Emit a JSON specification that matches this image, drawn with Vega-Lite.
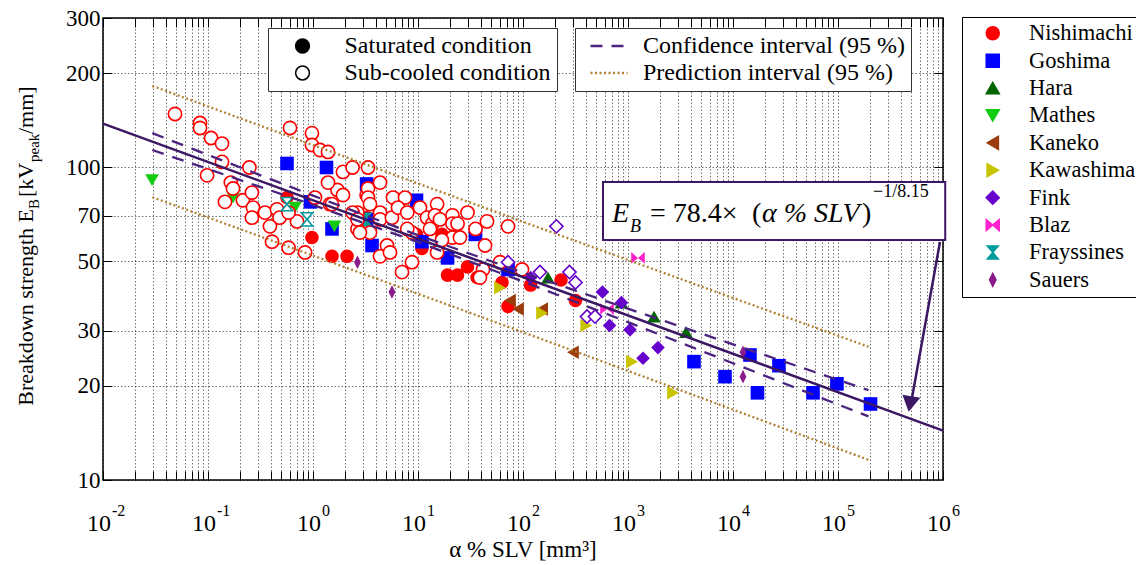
{
"$schema":"https://vega.github.io/schema/vega-lite/v6.json",
"width":840,"height":462,
"autosize":{"type":"none"},
"padding":{"left":103,"top":18,"right":193,"bottom":85},
"background":"white",
"resolve":{"axis":{"x":"independent","y":"independent"}},
"config":{
 "view":{"stroke":"#000","strokeWidth":1.5},
 "font":"Liberation Serif, Times New Roman, DejaVu Serif, serif",
 "text":{"font":"Liberation Serif, Times New Roman, DejaVu Serif, serif"},
 "axis":{"domain":false,"grid":true,"gridColor":"#000","gridDash":[1.5,2],"gridOpacity":0.55,"gridWidth":1,"tickColor":"#000","tickWidth":1,"labelFont":"Liberation Serif, Times New Roman, DejaVu Serif, serif","labelColor":"#000","labelFontSize":23},
 "legend":{"labelFont":"Liberation Serif, Times New Roman, DejaVu Serif, serif","labelColor":"#000"}
},
"datasets":{
"pts":[
{"s":"Nishimachi","c":"sub","x":0.0485,"y":148},{"s":"Nishimachi","c":"sub","x":0.0839,"y":138.5},{"s":"Nishimachi","c":"sub","x":0.0839,"y":133.5},{"s":"Nishimachi","c":"sub","x":0.107,"y":124},{"s":"Nishimachi","c":"sub","x":0.136,"y":119},{"s":"Nishimachi","c":"sub","x":0.136,"y":104},{"s":"Nishimachi","c":"sub","x":0.098,"y":94.2},{"s":"Nishimachi","c":"sub","x":0.248,"y":99.8},{"s":"Nishimachi","c":"sub","x":0.165,"y":89.3},{"s":"Nishimachi","c":"sub","x":0.173,"y":85.5},
{"s":"Nishimachi","c":"sub","x":0.145,"y":77.5},{"s":"Nishimachi","c":"sub","x":0.215,"y":78.4},{"s":"Nishimachi","c":"sub","x":0.262,"y":83},{"s":"Nishimachi","c":"sub","x":0.268,"y":74.3},{"s":"Nishimachi","c":"sub","x":0.262,"y":69},{"s":"Nishimachi","c":"sub","x":0.349,"y":71.6},{"s":"Nishimachi","c":"sub","x":0.454,"y":73.3},{"s":"Nishimachi","c":"sub","x":0.48,"y":69},{"s":"Nishimachi","c":"sub","x":0.389,"y":64.7},{"s":"Nishimachi","c":"sub","x":0.407,"y":57.8},
{"s":"Nishimachi","c":"sub","x":0.585,"y":55.3},{"s":"Nishimachi","c":"sub","x":0.84,"y":53.4},{"s":"Nishimachi","c":"sub","x":0.604,"y":133.5},{"s":"Nishimachi","c":"sub","x":0.977,"y":128.5},{"s":"Nishimachi","c":"sub","x":0.977,"y":117.8},{"s":"Nishimachi","c":"sub","x":1.166,"y":113.5},{"s":"Nishimachi","c":"sub","x":1.39,"y":111.9},{"s":"Nishimachi","c":"sub","x":0.704,"y":67.1},{"s":"Nishimachi","c":"sub","x":1.045,"y":80},{"s":"Nishimachi","c":"sub","x":1.45,"y":76.2},
{"s":"Nishimachi","c":"sub","x":1.71,"y":84.6},{"s":"Nishimachi","c":"sub","x":1.93,"y":81.5},{"s":"Nishimachi","c":"sub","x":1.93,"y":96.6},{"s":"Nishimachi","c":"sub","x":2.38,"y":99.8},{"s":"Nishimachi","c":"sub","x":3.34,"y":99.8},{"s":"Nishimachi","c":"sub","x":4.35,"y":89.3},{"s":"Nishimachi","c":"sub","x":3.24,"y":81.5},{"s":"Nishimachi","c":"sub","x":2.65,"y":71.6},{"s":"Nishimachi","c":"sub","x":2.65,"y":63.5},{"s":"Nishimachi","c":"sub","x":3.49,"y":61.8},
{"s":"Nishimachi","c":"sub","x":4.35,"y":71.6},{"s":"Nishimachi","c":"sub","x":5.07,"y":56.2},{"s":"Nishimachi","c":"sub","x":4.35,"y":51.9},{"s":"Nishimachi","c":"sub","x":1.39,"y":89.3},{"s":"Nishimachi","c":"sub","x":1.517,"y":76.2},{"s":"Nishimachi","c":"sub","x":2.38,"y":71.6},{"s":"Nishimachi","c":"sub","x":2.65,"y":68.1},{"s":"Nishimachi","c":"sub","x":3.34,"y":85.5},{"s":"Nishimachi","c":"sub","x":3.34,"y":80},{"s":"Nishimachi","c":"sub","x":3.49,"y":76.2},
{"s":"Nishimachi","c":"sub","x":4.35,"y":68.1},{"s":"Nishimachi","c":"sub","x":5.65,"y":69},{"s":"Nishimachi","c":"sub","x":5.41,"y":53.4},{"s":"Nishimachi","c":"sub","x":8.77,"y":49.7},{"s":"Nishimachi","c":"sub","x":7.04,"y":46.2},{"s":"Nishimachi","c":"sub","x":5.78,"y":80},{"s":"Nishimachi","c":"sub","x":7.52,"y":80},{"s":"Nishimachi","c":"sub","x":6.45,"y":74.3},{"s":"Nishimachi","c":"sub","x":7.9,"y":71.6},{"s":"Nishimachi","c":"sub","x":8.77,"y":61.8},
{"s":"Nishimachi","c":"sub","x":10.45,"y":74.3},{"s":"Nishimachi","c":"sub","x":12.2,"y":69},{"s":"Nishimachi","c":"sub","x":13.7,"y":66},{"s":"Nishimachi","c":"sub","x":15.2,"y":76.2},{"s":"Nishimachi","c":"sub","x":14.5,"y":70.2},{"s":"Nishimachi","c":"sub","x":16.2,"y":68.1},{"s":"Nishimachi","c":"sub","x":21.3,"y":70.2},{"s":"Nishimachi","c":"sub","x":21.3,"y":66},{"s":"Nishimachi","c":"sub","x":21.3,"y":59.6},{"s":"Nishimachi","c":"sub","x":15.2,"y":53.4},
{"s":"Nishimachi","c":"sub","x":7.9,"y":63.5},{"s":"Nishimachi","c":"sub","x":16.9,"y":58.5},{"s":"Nishimachi","c":"sub","x":29.6,"y":71.6},{"s":"Nishimachi","c":"sub","x":23.8,"y":66},{"s":"Nishimachi","c":"sub","x":35.3,"y":63.5},{"s":"Nishimachi","c":"sub","x":45.4,"y":67.1},{"s":"Nishimachi","c":"sub","x":72,"y":64.7},{"s":"Nishimachi","c":"sub","x":13,"y":63.5},{"s":"Nishimachi","c":"sub","x":25.1,"y":59.6},{"s":"Nishimachi","c":"sub","x":43.5,"y":56.2},
{"s":"Nishimachi","c":"sub","x":41.6,"y":47.1},{"s":"Nishimachi","c":"sub","x":38.9,"y":44.4},{"s":"Nishimachi","c":"sub","x":60.4,"y":49.7},{"s":"Nishimachi","c":"sub","x":97.8,"y":47.1},{"s":"Nishimachi","c":"sub","x":2.8,"y":61.8},{"s":"Nishimachi","c":"sub","x":0.585,"y":71.6},
{"s":"Nishimachi","c":"sat","x":0.977,"y":59.6},{"s":"Nishimachi","c":"sat","x":1.517,"y":51.9},{"s":"Nishimachi","c":"sat","x":2.11,"y":51.9},{"s":"Nishimachi","c":"sat","x":3.24,"y":69},{"s":"Nishimachi","c":"sat","x":9.68,"y":61},{"s":"Nishimachi","c":"sat","x":10.9,"y":55},{"s":"Nishimachi","c":"sat","x":16.9,"y":61},{"s":"Nishimachi","c":"sat","x":19.1,"y":45.2},{"s":"Nishimachi","c":"sat","x":23.8,"y":45.2},{"s":"Nishimachi","c":"sat","x":29.6,"y":48},
{"s":"Nishimachi","c":"sat","x":36.5,"y":44.4},{"s":"Nishimachi","c":"sat","x":63.1,"y":42.8},{"s":"Nishimachi","c":"sat","x":72,"y":35.9},{"s":"Nishimachi","c":"sat","x":118,"y":42},{"s":"Nishimachi","c":"sat","x":230,"y":43.6},{"s":"Nishimachi","c":"sat","x":316,"y":37.5},{"s":"Nishimachi","c":"sat","x":0.565,"y":80},
{"s":"Goshima","c":"sat","x":0.565,"y":102.8},{"s":"Goshima","c":"sat","x":1.345,"y":99.8},{"s":"Goshima","c":"sat","x":3.24,"y":88.4},{"s":"Goshima","c":"sat","x":0.946,"y":77.5},{"s":"Goshima","c":"sat","x":1.517,"y":63.5},{"s":"Goshima","c":"sat","x":3.24,"y":68.1},{"s":"Goshima","c":"sat","x":3.65,"y":56.2},{"s":"Goshima","c":"sat","x":9.68,"y":78.4},{"s":"Goshima","c":"sat","x":10.9,"y":57.8},{"s":"Goshima","c":"sat","x":19.1,"y":51.3},
{"s":"Goshima","c":"sat","x":35.3,"y":61},{"s":"Goshima","c":"sat","x":72,"y":47.1},{"s":"Goshima","c":"sat","x":4250,"y":23.9},{"s":"Goshima","c":"sat","x":8390,"y":21.4},{"s":"Goshima","c":"sat","x":14500,"y":25.1},{"s":"Goshima","c":"sat","x":17100,"y":19},{"s":"Goshima","c":"sat","x":27400,"y":23.2},{"s":"Goshima","c":"sat","x":57800,"y":19},{"s":"Goshima","c":"sat","x":97700,"y":20.3},{"s":"Goshima","c":"sat","x":204000,"y":17.5},
{"s":"Hara","c":"sat","x":173,"y":44.4},{"s":"Hara","c":"sat","x":867,"y":36.9},{"s":"Hara","c":"sat","x":1770,"y":33.3},{"s":"Hara","c":"sat","x":3570,"y":29.7},
{"s":"Mathes","c":"sat","x":0.0293,"y":91},{"s":"Mathes","c":"sat","x":0.173,"y":80},{"s":"Mathes","c":"sat","x":0.674,"y":74.3},{"s":"Mathes","c":"sat","x":1.6,"y":64.7},
{"s":"Kaneko","c":"sat","x":75.2,"y":37.5},{"s":"Kaneko","c":"sat","x":89.6,"y":35.2},{"s":"Kaneko","c":"sat","x":152,"y":35.2},{"s":"Kaneko","c":"sat","x":299,"y":25.6},
{"s":"Kawashima","c":"sat","x":60.4,"y":41.2},{"s":"Kawashima","c":"sat","x":152,"y":34.2},{"s":"Kawashima","c":"sat","x":400,"y":31.2},{"s":"Kawashima","c":"sat","x":1091,"y":23.9},{"s":"Kawashima","c":"sat","x":2685,"y":19},
{"s":"Fink","c":"sat","x":118,"y":44.4},{"s":"Fink","c":"sat","x":571,"y":39.9},{"s":"Fink","c":"sat","x":867,"y":36.9},{"s":"Fink","c":"sat","x":667,"y":31.2},{"s":"Fink","c":"sat","x":1045,"y":30.2},{"s":"Fink","c":"sat","x":1930,"y":26.5},{"s":"Fink","c":"sat","x":1390,"y":24.5},
{"s":"Fink","c":"sub","x":208,"y":64.7},{"s":"Fink","c":"sub","x":72,"y":49.7},{"s":"Fink","c":"sub","x":145,"y":46.2},{"s":"Fink","c":"sub","x":277,"y":46.2},{"s":"Fink","c":"sub","x":316,"y":42.8},{"s":"Fink","c":"sub","x":407,"y":33.3},{"s":"Fink","c":"sub","x":485,"y":33.3},
{"s":"Blaz","c":"sat","x":1245,"y":51.3},{"s":"Blaz","c":"sat","x":631,"y":35.2},
{"s":"Frayssines","c":"sub","x":0.877,"y":68.1},{"s":"Frayssines","c":"sat","x":3.24,"y":68.1},{"s":"Frayssines","c":"sub","x":0.565,"y":76.2},
{"s":"Sauers","c":"sat","x":2.65,"y":49.7},{"s":"Sauers","c":"sat","x":5.65,"y":39.9},{"s":"Sauers","c":"sat","x":12450,"y":25.6},{"s":"Sauers","c":"sat","x":12450,"y":21.4}
],
"fit":[{"x":0.01,"y":137.9},{"x":1000000,"y":14.39}],
"bands":[
{"b":"Confidence interval (95 %)","k":"cu","x":0.0295,"y":128.5},{"b":"Confidence interval (95 %)","k":"cu","x":0.1,"y":109.5},{"b":"Confidence interval (95 %)","k":"cu","x":1,"y":81.15},{"b":"Confidence interval (95 %)","k":"cu","x":11.2,"y":59.77},{"b":"Confidence interval (95 %)","k":"cu","x":100,"y":46.05},{"b":"Confidence interval (95 %)","k":"cu","x":1000,"y":35.3},{"b":"Confidence interval (95 %)","k":"cu","x":10000,"y":27.15},{"b":"Confidence interval (95 %)","k":"cu","x":195000,"y":19.37},
{"b":"Confidence interval (95 %)","k":"cl","x":0.0295,"y":113.5},{"b":"Confidence interval (95 %)","k":"cl","x":0.1,"y":98.7},{"b":"Confidence interval (95 %)","k":"cl","x":1,"y":75.75},{"b":"Confidence interval (95 %)","k":"cl","x":11.2,"y":56.82},{"b":"Confidence interval (95 %)","k":"cl","x":100,"y":43.11},{"b":"Confidence interval (95 %)","k":"cl","x":1000,"y":31.96},{"b":"Confidence interval (95 %)","k":"cl","x":10000,"y":23.62},{"b":"Confidence interval (95 %)","k":"cl","x":195000,"y":15.97},
{"b":"Prediction interval (95 %)","k":"pu","x":0.0295,"y":181.97},{"b":"Prediction interval (95 %)","k":"pu","x":1,"y":117.7},{"b":"Prediction interval (95 %)","k":"pu","x":11.2,"y":87.47},{"b":"Prediction interval (95 %)","k":"pu","x":316.2,"y":58.12},{"b":"Prediction interval (95 %)","k":"pu","x":10000,"y":38.19},{"b":"Prediction interval (95 %)","k":"pu","x":195000,"y":26.68},
{"b":"Prediction interval (95 %)","k":"pl","x":0.0295,"y":80.17},{"b":"Prediction interval (95 %)","k":"pl","x":1,"y":52.2},{"b":"Prediction interval (95 %)","k":"pl","x":11.2,"y":38.83},{"b":"Prediction interval (95 %)","k":"pl","x":316.2,"y":25.75},{"b":"Prediction interval (95 %)","k":"pl","x":10000,"y":16.79},{"b":"Prediction interval (95 %)","k":"pl","x":195000,"y":11.6}
],
"xl":[{"v":0.01,"e":"-2"},{"v":0.1,"e":"-1"},{"v":1,"e":"0"},{"v":10,"e":"1"},{"v":100,"e":"2"},{"v":1000,"e":"3"},{"v":10000,"e":"4"},{"v":100000,"e":"5"},{"v":1000000,"e":"6"}]
},
"layer":[
{"data":{"name":"pts"},"transform":[{"filter":"datum.c === 'sat'"}],
 "mark":{"type":"point","filled":true,"opacity":1,"size":185,"strokeWidth":0},
 "encoding":{
  "x":{"field":"x","type":"quantitative","scale":{"type":"log","domain":[0.01,1000000],"nice":false},"axis":{"orient":"bottom","values":[0.01,0.02,0.03,0.04,0.05,0.06,0.07,0.08,0.09,0.1,0.2,0.3,0.4,0.5,0.6,0.7,0.8,0.9,1,2,3,4,5,6,7,8,9,10,20,30,40,50,60,70,80,90,100,200,300,400,500,600,700,800,900,1000,2000,3000,4000,5000,6000,7000,8000,9000,10000,20000,30000,40000,50000,60000,70000,80000,90000,100000,200000,300000,400000,500000,600000,700000,800000,900000,1000000],"labels":false,"tickSize":-9,"title":null}},
  "y":{"field":"y","type":"quantitative","scale":{"type":"log","domain":[10,300],"nice":false},"axis":{"orient":"left","values":[10,20,30,50,70,100,200,300],"tickSize":-9,"labelPadding":12,"title":null}},
  "color":{"field":"s","type":"nominal","scale":{"domain":["Nishimachi","Goshima","Hara","Mathes","Kaneko","Kawashima","Fink","Blaz","Frayssines","Sauers"],"range":["#ff0000","#0000ff","#006400","#11cc11","#9c3c0c","#c8c400","#6600cc","#ff22cc","#009b9b","#8b1a8b"]},
   "legend":{"title":null,"orient":"none","legendX":859,"legendY":-1,"fillColor":"white","strokeColor":"#000","padding":5,"labelFontSize":22.5,"labelOffset":25,"symbolOffset":14.5,"symbolSize":170,"rowPadding":4.4,"labelLimit":400,"symbolOpacity":1}},
  "shape":{"field":"s","type":"nominal","scale":{"domain":["Nishimachi","Goshima","Hara","Mathes","Kaneko","Kawashima","Fink","Blaz","Frayssines","Sauers"],"range":["circle","square","triangle-up","triangle-down","triangle-left","triangle-right","diamond","M-1,-0.85L0,0L-1,0.85ZM1,-0.85L0,0L1,0.85Z","M-0.85,-1L0.85,-1L0,0ZM-0.85,1L0.85,1L0,0Z","M0,-1L0.5,0L0,1L-0.5,0Z"]},
   "legend":{"title":null,"orient":"none","legendX":859,"legendY":-1,"fillColor":"white","strokeColor":"#000","padding":5,"labelFontSize":22.5,"labelOffset":25,"symbolOffset":14.5,"symbolSize":170,"rowPadding":4.4,"labelLimit":400,"symbolOpacity":1}}
 }},
{"data":{"name":"pts"},"transform":[{"filter":"datum.c === 'sub'"}],
 "mark":{"type":"point","filled":false,"fill":"white","opacity":1,"size":175,"strokeWidth":1.6},
 "encoding":{
  "x":{"field":"x","type":"quantitative","scale":{"type":"log","domain":[0.01,1000000],"nice":false},"axis":null},
  "y":{"field":"y","type":"quantitative","scale":{"type":"log","domain":[10,300],"nice":false},"axis":null},
  "color":{"field":"s","type":"nominal","scale":{"domain":["Nishimachi","Goshima","Hara","Mathes","Kaneko","Kawashima","Fink","Blaz","Frayssines","Sauers"],"range":["#ff0000","#0000ff","#006400","#11cc11","#9c3c0c","#c8c400","#6600cc","#ff22cc","#009b9b","#8b1a8b"]},
   "legend":{"title":null,"orient":"none","legendX":859,"legendY":-1,"fillColor":"white","strokeColor":"#000","padding":5,"labelFontSize":22.5,"labelOffset":25,"symbolOffset":14.5,"symbolSize":170,"rowPadding":4.4,"labelLimit":400,"symbolOpacity":1}},
  "shape":{"field":"s","type":"nominal","scale":{"domain":["Nishimachi","Goshima","Hara","Mathes","Kaneko","Kawashima","Fink","Blaz","Frayssines","Sauers"],"range":["circle","square","triangle-up","triangle-down","triangle-left","triangle-right","diamond","M-1,-0.85L0,0L-1,0.85ZM1,-0.85L0,0L1,0.85Z","M-0.85,-1L0.85,-1L0,0ZM-0.85,1L0.85,1L0,0Z","M0,-1L0.5,0L0,1L-0.5,0Z"]},
   "legend":{"title":null,"orient":"none","legendX":859,"legendY":-1,"fillColor":"white","strokeColor":"#000","padding":5,"labelFontSize":22.5,"labelOffset":25,"symbolOffset":14.5,"symbolSize":170,"rowPadding":4.4,"labelLimit":400,"symbolOpacity":1}}
 }},
{"data":{"values":[{"k":"Saturated condition"},{"k":"Sub-cooled condition"}]},
 "mark":{"type":"point","shape":"circle","filled":true,"stroke":"#000","strokeWidth":1.5,"opacity":1,"size":190,"clip":true},
 "encoding":{
  "x":{"datum":0.001,"type":"quantitative","scale":{"type":"log","domain":[0.01,1000000],"nice":false},"axis":null},
  "y":{"datum":1,"type":"quantitative","scale":{"type":"log","domain":[10,300],"nice":false},"axis":null},
  "fill":{"field":"k","type":"nominal","scale":{"domain":["Saturated condition","Sub-cooled condition"],"range":["#000000","#ffffff"]},
   "legend":{"title":null,"orient":"none","legendX":165,"legendY":10,"fillColor":"white","strokeColor":"#333","padding":6,"labelFontSize":24,"labelOffset":30,"symbolOffset":16.5,"symbolSize":190,"rowPadding":3,"symbolType":"circle","symbolStrokeColor":"#000","symbolStrokeWidth":1.5,"labelLimit":400}}
 }},
{"data":{"name":"bands"},
 "mark":{"type":"line","strokeWidth":2.3,"opacity":1},
 "encoding":{
  "x":{"field":"x","type":"quantitative","scale":{"type":"log","domain":[0.01,1000000],"nice":false},"axis":null},
  "y":{"field":"y","type":"quantitative","scale":{"type":"log","domain":[10,300],"nice":false},"axis":null},
  "detail":{"field":"k","type":"nominal"},
  "stroke":{"field":"b","type":"nominal","scale":{"domain":["Confidence interval (95 %)","Prediction interval (95 %)"],"range":["#4a2480","#b08030"]},
   "legend":{"title":null,"orient":"none","legendX":472,"legendY":10,"fillColor":"white","strokeColor":"#333","padding":6,"labelFontSize":24,"labelOffset":22,"symbolOffset":16,"symbolSize":342,"symbolType":"M-2,0L2,0","symbolStrokeWidth":2.5,"rowPadding":3,"labelLimit":400}},
  "strokeDash":{"field":"b","type":"nominal","scale":{"domain":["Confidence interval (95 %)","Prediction interval (95 %)"],"range":[[12,9],[2,2.5]]},
   "legend":{"title":null,"orient":"none","legendX":472,"legendY":10,"fillColor":"white","strokeColor":"#333","padding":6,"labelFontSize":24,"labelOffset":22,"symbolOffset":16,"symbolSize":342,"symbolType":"M-2,0L2,0","symbolStrokeWidth":2.5,"rowPadding":3,"labelLimit":400}}
 }},
{"data":{"name":"fit"},
 "mark":{"type":"line","color":"#3b1764","strokeWidth":2.5},
 "encoding":{
  "x":{"field":"x","type":"quantitative","scale":{"type":"log","domain":[0.01,1000000],"nice":false},"axis":{"orient":"top","values":[0.01,0.02,0.03,0.04,0.05,0.06,0.07,0.08,0.09,0.1,0.2,0.3,0.4,0.5,0.6,0.7,0.8,0.9,1,2,3,4,5,6,7,8,9,10,20,30,40,50,60,70,80,90,100,200,300,400,500,600,700,800,900,1000,2000,3000,4000,5000,6000,7000,8000,9000,10000,20000,30000,40000,50000,60000,70000,80000,90000,100000,200000,300000,400000,500000,600000,700000,800000,900000,1000000],"labels":false,"grid":false,"tickSize":-9,"title":null}},
  "y":{"field":"y","type":"quantitative","scale":{"type":"log","domain":[10,300],"nice":false},"axis":{"orient":"right","values":[20,30,50,70,100,200],"labels":false,"grid":false,"tickSize":-9,"title":null}}
 }},
{"data":{"values":[{}]},
 "mark":{"type":"rect","fill":"white","stroke":"#3b1764","strokeWidth":2},
 "encoding":{
  "x":{"datum":578,"type":"quantitative","scale":{"type":"log","domain":[0.01,1000000],"nice":false},"axis":null},
  "x2":{"datum":1050000},
  "y":{"datum":89.7,"type":"quantitative","scale":{"type":"log","domain":[10,300],"nice":false},"axis":null},
  "y2":{"datum":58.5}
 }},
{"data":{"values":[{"t":"E"}]},
 "mark":{"type":"text","fontStyle":"italic","fontSize":28,"align":"left","baseline":"alphabetic","color":"#000"},
 "encoding":{"text":{"field":"t"},
  "x":{"datum":704.2,"type":"quantitative","scale":{"type":"log","domain":[0.01,1000000],"nice":false},"axis":null},
  "y":{"datum":66.83,"type":"quantitative","scale":{"type":"log","domain":[10,300],"nice":false},"axis":null}}},
{"data":{"values":[{"t":"B"}]},
 "mark":{"type":"text","fontStyle":"italic","fontSize":18,"align":"left","baseline":"alphabetic","color":"#000"},
 "encoding":{"text":{"field":"t"},
  "x":{"datum":1045,"type":"quantitative","scale":{"type":"log","domain":[0.01,1000000],"nice":false},"axis":null},
  "y":{"datum":62.09,"type":"quantitative","scale":{"type":"log","domain":[10,300],"nice":false},"axis":null}}},
{"data":{"values":[{"t":"= 78.4×"}]},
 "mark":{"type":"text","fontSize":28,"align":"left","baseline":"alphabetic","color":"#000"},
 "encoding":{"text":{"field":"t"},
  "x":{"datum":1620,"type":"quantitative","scale":{"type":"log","domain":[0.01,1000000],"nice":false},"axis":null},
  "y":{"datum":66.83,"type":"quantitative","scale":{"type":"log","domain":[10,300],"nice":false},"axis":null}}},
{"data":{"values":[{"t":"("}]},
 "mark":{"type":"text","fontSize":28,"align":"left","baseline":"alphabetic","color":"#000"},
 "encoding":{"text":{"field":"t"},
  "x":{"datum":15170,"type":"quantitative","scale":{"type":"log","domain":[0.01,1000000],"nice":false},"axis":null},
  "y":{"datum":66.83,"type":"quantitative","scale":{"type":"log","domain":[10,300],"nice":false},"axis":null}}},
{"data":{"values":[{"t":"α % SLV"}]},
 "mark":{"type":"text","fontStyle":"italic","fontSize":28,"align":"left","baseline":"alphabetic","color":"#000"},
 "encoding":{"text":{"field":"t"},
  "x":{"datum":18880,"type":"quantitative","scale":{"type":"log","domain":[0.01,1000000],"nice":false},"axis":null},
  "y":{"datum":66.83,"type":"quantitative","scale":{"type":"log","domain":[10,300],"nice":false},"axis":null}}},
{"data":{"values":[{"t":")"}]},
 "mark":{"type":"text","fontSize":28,"align":"left","baseline":"alphabetic","color":"#000"},
 "encoding":{"text":{"field":"t"},
  "x":{"datum":169300,"type":"quantitative","scale":{"type":"log","domain":[0.01,1000000],"nice":false},"axis":null},
  "y":{"datum":66.83,"type":"quantitative","scale":{"type":"log","domain":[10,300],"nice":false},"axis":null}}},
{"data":{"values":[{"t":"−1/8.15"}]},
 "mark":{"type":"text","fontSize":18,"align":"left","baseline":"alphabetic","color":"#000"},
 "encoding":{"text":{"field":"t"},
  "x":{"datum":215400,"type":"quantitative","scale":{"type":"log","domain":[0.01,1000000],"nice":false},"axis":null},
  "y":{"datum":80.33,"type":"quantitative","scale":{"type":"log","domain":[10,300],"nice":false},"axis":null}}},
{"data":{"values":[{}]},
 "mark":{"type":"rule","color":"#3b1764","strokeWidth":2.5},
 "encoding":{
  "x":{"datum":936000,"type":"quantitative","scale":{"type":"log","domain":[0.01,1000000],"nice":false},"axis":null},
  "x2":{"datum":506800},
  "y":{"datum":57.7,"type":"quantitative","scale":{"type":"log","domain":[10,300],"nice":false},"axis":null},
  "y2":{"datum":18.3}
 }},
{"data":{"values":[{}]},
 "mark":{"type":"point","shape":"triangle-down","filled":true,"color":"#3b1764","size":330,"angle":10,"opacity":1},
 "encoding":{
  "x":{"datum":485100,"type":"quantitative","scale":{"type":"log","domain":[0.01,1000000],"nice":false},"axis":null},
  "y":{"datum":17.5,"type":"quantitative","scale":{"type":"log","domain":[10,300],"nice":false},"axis":null}
 }},
{"data":{"name":"xl"},
 "mark":{"type":"text","text":"10","fontSize":24,"align":"right","baseline":"alphabetic","dx":8,"dy":51,"color":"#000"},
 "encoding":{
  "x":{"field":"v","type":"quantitative","scale":{"type":"log","domain":[0.01,1000000],"nice":false},"axis":null},
  "y":{"datum":10,"type":"quantitative","scale":{"type":"log","domain":[10,300],"nice":false},"axis":null}
 }},
{"data":{"name":"xl"},
 "mark":{"type":"text","fontSize":16,"align":"left","baseline":"alphabetic","dx":9,"dy":36,"color":"#000"},
 "encoding":{"text":{"field":"e"},
  "x":{"field":"v","type":"quantitative","scale":{"type":"log","domain":[0.01,1000000],"nice":false},"axis":null},
  "y":{"datum":10,"type":"quantitative","scale":{"type":"log","domain":[10,300],"nice":false},"axis":null}
 }},
{"data":{"values":[{"t":"α % SLV [mm³]"}]},
 "mark":{"type":"text","fontSize":23,"align":"center","baseline":"alphabetic","dy":77,"color":"#000"},
 "encoding":{"text":{"field":"t"},
  "x":{"datum":100,"type":"quantitative","scale":{"type":"log","domain":[0.01,1000000],"nice":false},"axis":null},
  "y":{"datum":10,"type":"quantitative","scale":{"type":"log","domain":[10,300],"nice":false},"axis":null}}},
{"data":{"values":[{"t":"Breakdown strength E"}]},
 "mark":{"type":"text","fontSize":22,"align":"right","baseline":"alphabetic","angle":270,"color":"#000"},
 "encoding":{"text":{"field":"t"},
  "x":{"datum":0.002154,"type":"quantitative","scale":{"type":"log","domain":[0.01,1000000],"nice":false},"axis":null},
  "y":{"datum":73.55,"type":"quantitative","scale":{"type":"log","domain":[10,300],"nice":false},"axis":null}}},
{"data":{"values":[{"t":"B"}]},
 "mark":{"type":"text","fontSize":15,"align":"left","baseline":"alphabetic","angle":270,"dy":6,"color":"#000"},
 "encoding":{"text":{"field":"t"},
  "x":{"datum":0.002154,"type":"quantitative","scale":{"type":"log","domain":[0.01,1000000],"nice":false},"axis":null},
  "y":{"datum":73.55,"type":"quantitative","scale":{"type":"log","domain":[10,300],"nice":false},"axis":null}}},
{"data":{"values":[{"t":"[kV"}]},
 "mark":{"type":"text","fontSize":22,"align":"left","baseline":"alphabetic","angle":270,"color":"#000"},
 "encoding":{"text":{"field":"t"},
  "x":{"datum":0.002154,"type":"quantitative","scale":{"type":"log","domain":[0.01,1000000],"nice":false},"axis":null},
  "y":{"datum":80.3,"type":"quantitative","scale":{"type":"log","domain":[10,300],"nice":false},"axis":null}}},
{"data":{"values":[{"t":"peak"}]},
 "mark":{"type":"text","fontSize":15,"align":"left","baseline":"alphabetic","angle":270,"dy":6,"color":"#000"},
 "encoding":{"text":{"field":"t"},
  "x":{"datum":0.002154,"type":"quantitative","scale":{"type":"log","domain":[0.01,1000000],"nice":false},"axis":null},
  "y":{"datum":103.9,"type":"quantitative","scale":{"type":"log","domain":[10,300],"nice":false},"axis":null}}},
{"data":{"values":[{"t":"/mm]"}]},
 "mark":{"type":"text","fontSize":22,"align":"left","baseline":"alphabetic","angle":270,"color":"#000"},
 "encoding":{"text":{"field":"t"},
  "x":{"datum":0.002154,"type":"quantitative","scale":{"type":"log","domain":[0.01,1000000],"nice":false},"axis":null},
  "y":{"datum":127.7,"type":"quantitative","scale":{"type":"log","domain":[10,300],"nice":false},"axis":null}}}
]
}
